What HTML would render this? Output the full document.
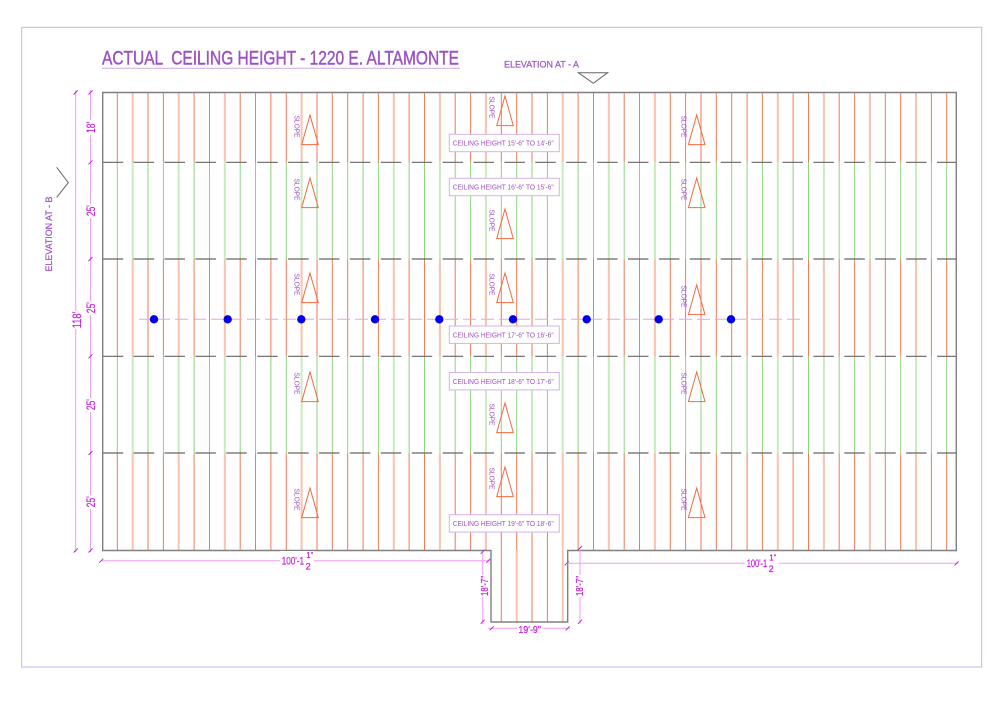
<!DOCTYPE html>
<html>
<head>
<meta charset="utf-8">
<style>
  html,body{margin:0;padding:0;background:#fff;}
  svg{display:block;}
  text{font-family:"Liberation Sans", Arial, sans-serif;}
</style>
</head>
<body>
<svg width="1000" height="706" viewBox="0 0 1000 706" xmlns="http://www.w3.org/2000/svg">
  <defs>
    <path id="thin" d="M117.3 92.5v458M148 92.5v458M163.4 92.5v458M194.1 92.5v458M209.5 92.5v458M240.2 92.5v458M255.5 92.5v458M270.9 92.5v458M286.3 92.5v458M317 92.5v458M332.3 92.5v458M347.7 92.5v458M363.1 92.5v458M378.4 92.5v458M409.1 92.5v458M424.5 92.5v458M455.2 92.5v458M470.6 92.5v458M501.3 92.5v458M516.7 92.5v458M532 92.5v458M547.4 92.5v458M578.1 92.5v458M593.5 92.5v458M624.2 92.5v458M639.5 92.5v458M670.3 92.5v458M685.6 92.5v458M701 92.5v458M716.3 92.5v458M731.7 92.5v458M747.1 92.5v458M762.4 92.5v458M793.1 92.5v458M808.5 92.5v458M839.2 92.5v458M854.6 92.5v458M885.3 92.5v458M900.7 92.5v458M931.4 92.5v458M946.7 92.5v458"/>
    <path id="light" d="M132.7 92.5v458M178.7 92.5v458M224.8 92.5v458M301.6 92.5v458M393.8 92.5v458M439.9 92.5v458M485.9 92.5v458M562.7 92.5v458M608.8 92.5v458M654.9 92.5v458M777.8 92.5v458M823.9 92.5v458M869.9 92.5v458M916 92.5v458"/>
    <clipPath id="gclip">
      <rect x="100" y="162.3" width="860" height="96.7"/>
      <rect x="100" y="356.3" width="860" height="96.7"/>
    </clipPath>
  </defs>

  <!-- outer border -->
  <rect x="21.7" y="27.3" width="960" height="639.7" fill="none" stroke="#b9b9f2" stroke-width="1"/>

  <!-- title -->
  <text x="102" y="64.5" font-size="19" fill="#9c52c4" stroke="#9c52c4" stroke-width="0.45" textLength="357" lengthAdjust="spacingAndGlyphs" xml:space="preserve">ACTUAL  CEILING HEIGHT - 1220 E. ALTAMONTE</text>
  <line x1="102" y1="68.3" x2="460" y2="68.3" stroke="#cfa9e0" stroke-width="1"/>

  <!-- elevation A -->
  <text x="504" y="67.3" font-size="9" fill="#9c52c4" stroke="#9c52c4" stroke-width="0.2" textLength="75" lengthAdjust="spacingAndGlyphs">ELEVATION AT - A</text>
  <polygon points="578.3,72.7 607.7,72.7 593.3,83.3" fill="none" stroke="#666" stroke-width="1"/>

  <!-- elevation B -->
  <text x="52.2" y="234" font-size="9.5" fill="#9c52c4" stroke="#9c52c4" stroke-width="0.2" text-anchor="middle" textLength="75" lengthAdjust="spacingAndGlyphs" transform="rotate(-90 52.2 234)">ELEVATION AT - B</text>
  <polyline points="56.7,167.3 68.3,182.7 56.7,197.3" fill="none" stroke="#666" stroke-width="1"/>

  <!-- vertical lines: red base -->
  <use href="#thin" stroke="#f37a55" stroke-width="1"/>
  <use href="#light" stroke="#fbc2ad" stroke-width="2"/>
  <!-- notch extension -->
  <path d="M501.3 550.5V622M532 550.5V622M547.4 550.5V622" stroke="#f37a55" stroke-width="1"/>
  <path d="M516.7 550.5V622M562.7 550.5V622" stroke="#fbc2ad" stroke-width="2"/>
  <!-- green bands -->
  <g clip-path="url(#gclip)">
    <rect x="103.5" y="162.3" width="852" height="96.7" fill="#fff"/>
    <rect x="103.5" y="356.3" width="852" height="96.7" fill="#fff"/>
    <use href="#thin" stroke="#8cd681" stroke-width="1"/>
    <use href="#light" stroke="#c8ebbf" stroke-width="2"/>
  </g>

  <!-- dashed horizontal lines -->
  <g stroke="#666" stroke-width="1.2" stroke-dasharray="20.5 10.4">
    <line x1="102.7" y1="162.3" x2="956.3" y2="162.3"/>
    <line x1="102.7" y1="259" x2="956.3" y2="259"/>
    <line x1="102.7" y1="356.3" x2="956.3" y2="356.3"/>
    <line x1="102.7" y1="453" x2="956.3" y2="453"/>
  </g>

  <!-- frame -->
  <path d="M102.7 92.5H956.3V550.5H567.7V622H491V550.5H102.7Z" fill="none" stroke="#808080" stroke-width="1.4"/>

  <!-- dash-dot line with dots -->
  <line x1="139" y1="319.3" x2="804" y2="319.3" stroke="#e6a3e6" stroke-width="1" stroke-dasharray="13 5"/>
  <g fill="#0000ee">
    <circle cx="154" cy="319.3" r="4.2"/>
    <circle cx="227.7" cy="319.3" r="4.2"/>
    <circle cx="301.3" cy="319.3" r="4.2"/>
    <circle cx="375" cy="319.3" r="4.2"/>
    <circle cx="439.3" cy="319.3" r="4.2"/>
    <circle cx="513" cy="319.3" r="4.2"/>
    <circle cx="586.7" cy="319.3" r="4.2"/>
    <circle cx="658.7" cy="319.3" r="4.2"/>
    <circle cx="731" cy="319.3" r="4.2"/>
  </g>

  <!-- ceiling height label boxes -->
  <g>
    <rect x="449.3" y="134.3" width="110" height="17.4" fill="#fff" stroke="#d6b2e4" stroke-width="1"/>
    <text x="452.7" y="145.6" font-size="7.2" fill="#9a4fc0" textLength="101" lengthAdjust="spacingAndGlyphs">CEILING HEIGHT 15'-6" TO 14'-6"</text>
    <rect x="449.3" y="178.3" width="110" height="17.4" fill="#fff" stroke="#d6b2e4" stroke-width="1"/>
    <text x="452.7" y="189.6" font-size="7.2" fill="#9a4fc0" textLength="101" lengthAdjust="spacingAndGlyphs">CEILING HEIGHT 16'-6" TO 15'-6"</text>
    <rect x="449.3" y="326" width="110" height="17.4" fill="#fff" stroke="#d6b2e4" stroke-width="1"/>
    <text x="452.7" y="337.3" font-size="7.2" fill="#9a4fc0" textLength="101" lengthAdjust="spacingAndGlyphs">CEILING HEIGHT 17'-6" TO 16'-6"</text>
    <rect x="449.3" y="372.5" width="110" height="17.4" fill="#fff" stroke="#d6b2e4" stroke-width="1"/>
    <text x="452.7" y="383.8" font-size="7.2" fill="#9a4fc0" textLength="101" lengthAdjust="spacingAndGlyphs">CEILING HEIGHT 18'-6" TO 17'-6"</text>
    <rect x="449.3" y="514.7" width="110" height="17.4" fill="#fff" stroke="#d6b2e4" stroke-width="1"/>
    <text x="452.7" y="526" font-size="7.2" fill="#9a4fc0" textLength="101" lengthAdjust="spacingAndGlyphs">CEILING HEIGHT 19'-6" TO 18'-6"</text>
  </g>

  <!-- slope triangles -->
  <g fill="none" stroke="#f26a42" stroke-width="1">
    <polygon points="310,115 301.7,144.6 318.3,144.6"/>
    <polygon points="310,178 301.7,207.6 318.3,207.6"/>
    <polygon points="310,273 301.7,302.6 318.3,302.6"/>
    <polygon points="310,372 301.7,401.6 318.3,401.6"/>
    <polygon points="310,488 301.7,517.6 318.3,517.6"/>

    <polygon points="505,96 496.7,125.6 513.3,125.6"/>
    <polygon points="505,209 496.7,238.6 513.3,238.6"/>
    <polygon points="505,273 496.7,302.6 513.3,302.6"/>
    <polygon points="505,403 496.7,432.6 513.3,432.6"/>
    <polygon points="505,467 496.7,496.6 513.3,496.6"/>

    <polygon points="696.7,115 688.4,144.6 705,144.6"/>
    <polygon points="696.7,178 688.4,207.6 705,207.6"/>
    <polygon points="696.7,285 688.4,314.6 705,314.6"/>
    <polygon points="696.7,372 688.4,401.6 705,401.6"/>
    <polygon points="696.7,488 688.4,517.6 705,517.6"/>
  </g>
  <g font-size="7.2" fill="#9a4fc0">
    <text x="294.5" y="115.5" textLength="22" lengthAdjust="spacingAndGlyphs" transform="rotate(90 294.5 115.5)">SLOPE</text>
    <text x="294.5" y="178.5" textLength="22" lengthAdjust="spacingAndGlyphs" transform="rotate(90 294.5 178.5)">SLOPE</text>
    <text x="294.5" y="273.5" textLength="22" lengthAdjust="spacingAndGlyphs" transform="rotate(90 294.5 273.5)">SLOPE</text>
    <text x="294.5" y="372.5" textLength="22" lengthAdjust="spacingAndGlyphs" transform="rotate(90 294.5 372.5)">SLOPE</text>
    <text x="294.5" y="488.5" textLength="22" lengthAdjust="spacingAndGlyphs" transform="rotate(90 294.5 488.5)">SLOPE</text>

    <text x="489.5" y="96.5" textLength="22" lengthAdjust="spacingAndGlyphs" transform="rotate(90 489.5 96.5)">SLOPE</text>
    <text x="489.5" y="209.5" textLength="22" lengthAdjust="spacingAndGlyphs" transform="rotate(90 489.5 209.5)">SLOPE</text>
    <text x="489.5" y="273.5" textLength="22" lengthAdjust="spacingAndGlyphs" transform="rotate(90 489.5 273.5)">SLOPE</text>
    <text x="489.5" y="403.5" textLength="22" lengthAdjust="spacingAndGlyphs" transform="rotate(90 489.5 403.5)">SLOPE</text>
    <text x="489.5" y="467.5" textLength="22" lengthAdjust="spacingAndGlyphs" transform="rotate(90 489.5 467.5)">SLOPE</text>

    <text x="681.5" y="115.5" textLength="22" lengthAdjust="spacingAndGlyphs" transform="rotate(90 681.5 115.5)">SLOPE</text>
    <text x="681.5" y="178.5" textLength="22" lengthAdjust="spacingAndGlyphs" transform="rotate(90 681.5 178.5)">SLOPE</text>
    <text x="681.5" y="285.5" textLength="22" lengthAdjust="spacingAndGlyphs" transform="rotate(90 681.5 285.5)">SLOPE</text>
    <text x="681.5" y="372.5" textLength="22" lengthAdjust="spacingAndGlyphs" transform="rotate(90 681.5 372.5)">SLOPE</text>
    <text x="681.5" y="488.5" textLength="22" lengthAdjust="spacingAndGlyphs" transform="rotate(90 681.5 488.5)">SLOPE</text>
  </g>

  <!-- left dimensions -->
  <g stroke="#ef9cf6" stroke-width="1">
    <line x1="75.7" y1="90" x2="75.7" y2="552"/>
    <line x1="90.5" y1="90" x2="90.5" y2="552"/>
  </g>
  <g stroke="#c81edc" stroke-width="1">
    <line x1="73.7" y1="94.5" x2="77.7" y2="90.5"/>
    <line x1="73.7" y1="552.5" x2="77.7" y2="548.5"/>
    <line x1="88.5" y1="94.5" x2="92.5" y2="90.5"/>
    <line x1="88.5" y1="164.3" x2="92.5" y2="160.3"/>
    <line x1="88.5" y1="261" x2="92.5" y2="257"/>
    <line x1="88.5" y1="358.3" x2="92.5" y2="354.3"/>
    <line x1="88.5" y1="455" x2="92.5" y2="451"/>
    <line x1="88.5" y1="552.5" x2="92.5" y2="548.5"/>
  </g>
  <g fill="#fff">
    <rect x="85.5" y="120" width="11" height="15"/>
    <rect x="85.5" y="204" width="11" height="14"/>
    <rect x="85.5" y="301" width="11" height="14"/>
    <rect x="85.5" y="398" width="11" height="14"/>
    <rect x="85.5" y="495" width="11" height="14"/>
    <rect x="70.5" y="311" width="11" height="18"/>
  </g>
  <g font-size="11.5" fill="#c81edc" stroke="#c81edc" stroke-width="0.25" text-anchor="middle">
    <text x="95" y="127.4" textLength="11" lengthAdjust="spacingAndGlyphs" transform="rotate(-90 95 127.4)">18'</text>
    <text x="95" y="210.6" textLength="11" lengthAdjust="spacingAndGlyphs" transform="rotate(-90 95 210.6)">25'</text>
    <text x="95" y="307.6" textLength="11" lengthAdjust="spacingAndGlyphs" transform="rotate(-90 95 307.6)">25'</text>
    <text x="95" y="404.6" textLength="11" lengthAdjust="spacingAndGlyphs" transform="rotate(-90 95 404.6)">25'</text>
    <text x="95" y="501.7" textLength="11" lengthAdjust="spacingAndGlyphs" transform="rotate(-90 95 501.7)">25'</text>
    <text x="80.8" y="320" textLength="16.5" lengthAdjust="spacingAndGlyphs" transform="rotate(-90 80.8 320)">118'</text>
  </g>

  <!-- bottom dimensions -->
  <g stroke="#ef9cf6" stroke-width="1">
    <line x1="101.3" y1="560.7" x2="490" y2="560.7"/>
    <line x1="566.7" y1="563.3" x2="958" y2="563.3"/>
    <line x1="482.7" y1="551.7" x2="482.7" y2="624"/>
    <line x1="580" y1="548" x2="580" y2="624"/>
    <line x1="488" y1="628.3" x2="570" y2="628.3"/>
  </g>
  <g stroke="#c81edc" stroke-width="1">
    <line x1="99.3" y1="562.7" x2="103.3" y2="558.7"/>
    <line x1="486.3" y1="562.7" x2="490.3" y2="558.7"/>
    <line x1="564.7" y1="565.3" x2="568.7" y2="561.3"/>
    <line x1="954.7" y1="565.3" x2="958.7" y2="561.3"/>
    <line x1="480.7" y1="553.7" x2="484.7" y2="549.7"/>
    <line x1="480.7" y1="623.7" x2="484.7" y2="619.7"/>
    <line x1="578" y1="550" x2="582" y2="546"/>
    <line x1="578" y1="623.7" x2="582" y2="619.7"/>
    <line x1="489.7" y1="630.3" x2="493.7" y2="626.3"/>
    <line x1="565.7" y1="630.3" x2="569.7" y2="626.3"/>
  </g>
  <g fill="#fff">
    <rect x="280" y="551" width="34" height="19"/>
    <rect x="745" y="554" width="34" height="19"/>
    <rect x="478" y="575" width="11" height="22"/>
    <rect x="574" y="575" width="11" height="22"/>
    <rect x="517" y="623.5" width="25.5" height="11"/>
  </g>
  <g fill="#c81edc" stroke="#c81edc" stroke-width="0.25">
    <text x="281.7" y="564.6" font-size="11" textLength="22.3" lengthAdjust="spacingAndGlyphs">100'-1</text>
    <text x="306.3" y="558" font-size="8">1</text>
    <text x="305.6" y="569.5" font-size="9">2</text>
    <text x="310.8" y="557" font-size="7">"</text>

    <text x="746.7" y="567.2" font-size="11" textLength="20.5" lengthAdjust="spacingAndGlyphs">100'-1</text>
    <text x="769.3" y="560.6" font-size="8">1</text>
    <text x="768.6" y="572.1" font-size="9">2</text>
    <text x="773.8" y="559.6" font-size="7">"</text>

    <text x="487.8" y="586" font-size="10.5" text-anchor="middle" textLength="20" lengthAdjust="spacingAndGlyphs" transform="rotate(-90 487.8 586)">18'-7"</text>
    <text x="583" y="586" font-size="10.5" text-anchor="middle" textLength="20" lengthAdjust="spacingAndGlyphs" transform="rotate(-90 583 586)">18'-7"</text>
    <text x="529.7" y="633" font-size="10.5" text-anchor="middle" textLength="22.7" lengthAdjust="spacingAndGlyphs">19'-9"</text>
  </g>
</svg>
</body>
</html>
